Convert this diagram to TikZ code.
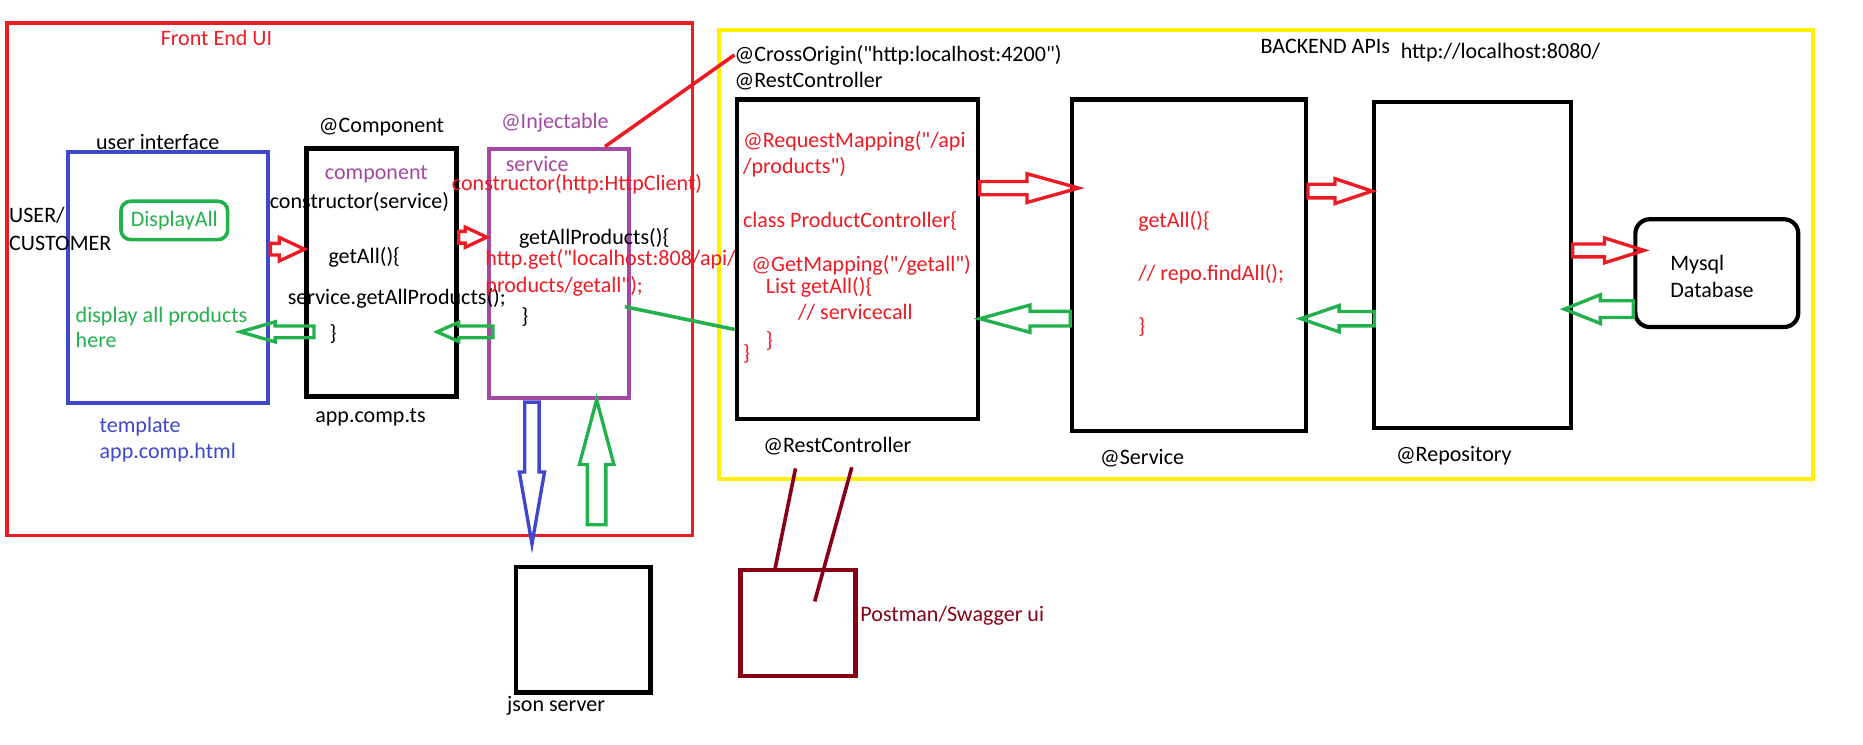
\documentclass[tikz,border=0pt]{standalone}
\usepackage{fontspec}
\newfontfamily\cf{Carlito}
\usetikzlibrary{calc}
\definecolor{pred}{RGB}{237,28,36}
\definecolor{pyellow}{RGB}{255,242,0}
\definecolor{pblue}{RGB}{63,72,204}
\definecolor{pgreen}{RGB}{34,177,76}
\definecolor{ppurple}{RGB}{163,73,164}
\definecolor{pdarkred}{RGB}{136,0,21}
\newcommand\fs{\cf\fontsize{18.4}{22}\selectfont}
\newcommand\hollowarrow[6]{%
	\draw[harrow,#1] ($(#2)!#4pt!90:(#3)$) -- ($($(#3)!#6pt!(#2)$)!#4pt!-90:(#2)$) -- ($($(#3)!#6pt!(#2)$)!#5pt!-90:(#2)$) -- (#3) -- ($($(#3)!#6pt!(#2)$)!#5pt!90:(#2)$) -- ($($(#3)!#6pt!(#2)$)!#4pt!90:(#2)$) -- ($(#2)!#4pt!-90:(#3)$) -- cycle;}
\tikzset{
	lbl/.style={anchor=base west, inner sep=0pt, font=\fs},
	box/.style={draw, line width=3.5pt, inner sep=0pt},
	harrow/.style={line width=2.8pt, line join=miter},
}
\begin{document}
\begin{tikzpicture}[x=1pt, y=-1pt]
	\useasboundingbox[fill=white] (0,0) rectangle (1555,621);
	\node[box, draw=pred, line width=3pt, minimum width=572pt, minimum height=428pt] (front) at (292,233) {};
	\node[box, draw=pyellow, minimum width=913pt, minimum height=375pt] (back) at (1056.5,212.5) {};
	\node[box, draw=pblue, line width=3.3pt, minimum width=167pt, minimum height=209pt] (ui) at (140.5,231.5) {};
	\node[box, draw=pgreen, line width=3pt, rounded corners=8pt, minimum width=89pt, minimum height=32pt, font=\fs, text=pgreen] (displayall) at (145.5,184) {DisplayAll};
	\node[box, line width=3.8pt, minimum width=125pt, minimum height=207pt] (comp) at (318.5,227.5) {};
	\node[box, draw=ppurple, line width=3.3pt, minimum width=117pt, minimum height=208pt] (svc) at (466.5,228) {};
	\node[box, minimum width=201pt, minimum height=267pt] (rc) at (715.5,216.5) {};
	\node[box, minimum width=195pt, minimum height=277pt] (service) at (992.5,221.5) {};
	\node[box, minimum width=164pt, minimum height=272pt] (repo) at (1229,221) {};
	\node[box, rounded corners=12pt, minimum width=136pt, minimum height=90pt] (mysql) at (1433,228) {};
	\node[box, minimum width=112pt, minimum height=105pt] (json) at (487,525.5) {};
	\node[box, draw=pdarkred, minimum width=96pt, minimum height=88pt] (postman) at (666,520) {};

	\node[lbl, text=pred] (tfront) at (134,38) {Front End UI};
	\node[lbl] (tui) at (80,125) {user interface};
	\node[lbl] (tuser) at (7.5,186) {USER/};
	\node[lbl] (tcust) at (7.5,209) {CUSTOMER};
	\node[lbl, text=pgreen] (tdisp1) at (63,269) {display all products};
	\node[lbl, text=pgreen] (tdisp2) at (63,290) {here};
	\node[lbl, text=pblue] (ttempl) at (83,361) {template};
	\node[lbl, text=pblue] (thtml) at (83,383) {app.comp.html};
	\node[lbl] (tcomp) at (266,111) {@Component};
	\node[lbl, text=ppurple] (tcompo) at (271,150) {component};
	\node[lbl] (tctor) at (225,174) {constructor(service)};
	\node[lbl] (tgetall) at (274,220) {getAll()\{};
	\node[lbl] (tsvcall) at (240,254) {service.getAllProducts();};
	\node[lbl] (tclose1) at (275,284) {\}};
	\node[lbl] (tts) at (263,353) {app.comp.ts};
	\node[lbl, text=ppurple] (tinj) at (418,107) {@Injectable};
	\node[lbl, text=ppurple] (tsvc) at (422,143) {service};
	\node[lbl, text=pred] (tctor2) at (377,159) {constructor(http:HttpClient)};
	\node[lbl] (tgap) at (433,204) {getAllProducts()\{};
	\node[lbl, text=pred] (thttp1) at (405,222) {http.get("localhost:808/api/};
	\node[lbl, text=pred] (thttp2) at (405,244) {products/getall");};
	\node[lbl] (tclose2) at (435,270) {\}};
	\node[lbl] (tcross) at (613,51) {@CrossOrigin("http:localhost:4200")};
	\node[lbl] (trest) at (613,73) {@RestController};
	\node[lbl] (tbackend) at (1052,44.5) {BACKEND APIs};
	\node[lbl] (turl) at (1169,49) {http://localhost:8080/};
	\node[lbl, text=pred] (trm1) at (620,123) {@RequestMapping("/api};
	\node[lbl, text=pred] (trm2) at (620,145) {/products")};
	\node[lbl, text=pred] (tclass) at (620,190) {class ProductController\{};
	\node[lbl, text=pred] (tgm) at (627,227) {@GetMapping("/getall")};
	\node[lbl, text=pred] (tlist) at (639,245) {List getAll()\{};
	\node[lbl, text=pred] (tcall) at (666,267) {// servicecall};
	\node[lbl, text=pred] (tclose3) at (639,290) {\}};
	\node[lbl, text=pred] (tclose4) at (620,301) {\}};
	\node[lbl] (trestb) at (637,378) {@RestController};
	\node[lbl, text=pred] (tsg) at (950,190) {getAll()\{};
	\node[lbl, text=pred] (trepo1) at (950,234) {// repo.findAll();};
	\node[lbl, text=pred] (tclose5) at (950,278) {\}};
	\node[lbl] (tservice) at (918,388) {@Service};
	\node[lbl] (trepo) at (1165,385) {@Repository};
	\node[lbl] (tmysql) at (1394,226) {Mysql};
	\node[lbl] (tdb) at (1394,248) {Database};
	\node[lbl] (tjson) at (423,594) {json server};
	\node[lbl, text=pdarkred] (tpost) at (718,519) {Postman/Swagger ui};

	\coordinate (r1a) at ([yshift=23.5pt]ui.east);
	\coordinate (r1b) at ([yshift=19.5pt]comp.west);
	\coordinate (r2a) at ([yshift=29.5pt]comp.east);
	\coordinate (r2b) at ([yshift=30pt]svc.west);
	\coordinate (g1a) at ([xshift=8pt,yshift=-49.5pt]comp.west);
	\coordinate (g1b) at ([xshift=-25pt,yshift=-45.5pt]ui.east);
	\coordinate (g2a) at ([xshift=5pt,yshift=-49pt]svc.west);
	\coordinate (g2b) at ([xshift=-18pt,yshift=-49.5pt]comp.east);
	\coordinate (ba) at ([xshift=-22.5pt,yshift=-2pt]svc.south);
	\coordinate (jtip) at (444,454);
	\coordinate (gbase) at (498,438);
	\coordinate (gb) at ([xshift=31.5pt]svc.south);
	\coordinate (r3a) at ([yshift=59.5pt]rc.east);
	\coordinate (r3b) at ([xshift=7pt,yshift=64.5pt]service.west);
	\coordinate (g3a) at ([yshift=-44.5pt]service.west);
	\coordinate (g3b) at ([yshift=-49.5pt]rc.east);
	\coordinate (r4a) at ([yshift=62pt]service.east);
	\coordinate (r4b) at ([yshift=61.5pt]repo.west);
	\coordinate (g4a) at ([xshift=2pt,yshift=-45pt]repo.west);
	\coordinate (g4b) at ([xshift=-6pt,yshift=-44.5pt]service.east);
	\coordinate (r5a) at ([yshift=12pt]repo.east);
	\coordinate (r5b) at ([xshift=9pt,yshift=19pt]mysql.west);
	\coordinate (g5a) at ([yshift=-30pt]mysql.west);
	\coordinate (g5b) at ([xshift=-7pt,yshift=-37pt]repo.east);
	\coordinate (pm1) at (664,391);
	\coordinate (pm2) at (711,390);

	\hollowarrow{pred}{r1a}{r1b}{4.9}{9.8}{21}
	\hollowarrow{pred}{r2a}{r2b}{4.9}{8.4}{18}
	\hollowarrow{pgreen}{g1a}{g1b}{4.9}{8.4}{29}
	\hollowarrow{pgreen}{g2a}{g2b}{4.9}{8}{18}
	\hollowarrow{pblue}{ba}{jtip}{6}{10.5}{60}
	\hollowarrow{pgreen}{gbase}{gb}{7.7}{14.4}{54}
	\hollowarrow{pred}{r3a}{r3b}{5.5}{12}{43}
	\hollowarrow{pgreen}{g3a}{g3b}{6.1}{11.4}{42}
	\hollowarrow{pred}{r4a}{r4b}{5.7}{10.4}{31}
	\hollowarrow{pgreen}{g4a}{g4b}{6}{11}{32}
	\hollowarrow{pred}{r5a}{r5b}{5.4}{10.4}{33}
	\hollowarrow{pgreen}{g5a}{g5b}{7}{12}{30}

	\draw[pred, line width=3pt] ([xshift=38.5pt]svc.north) -- (tcross.west);
	\draw[pgreen, line width=3pt] ([xshift=-5pt,yshift=-28pt]svc.east) -- ([yshift=-58.5pt]rc.west);
	\draw[pdarkred, line width=3pt] (pm1) -- ([xshift=-19pt]postman.north);
	\draw[pdarkred, line width=3pt] (pm2) -- ([xshift=14pt,yshift=18pt]postman.center);
\end{tikzpicture}
\end{document}
